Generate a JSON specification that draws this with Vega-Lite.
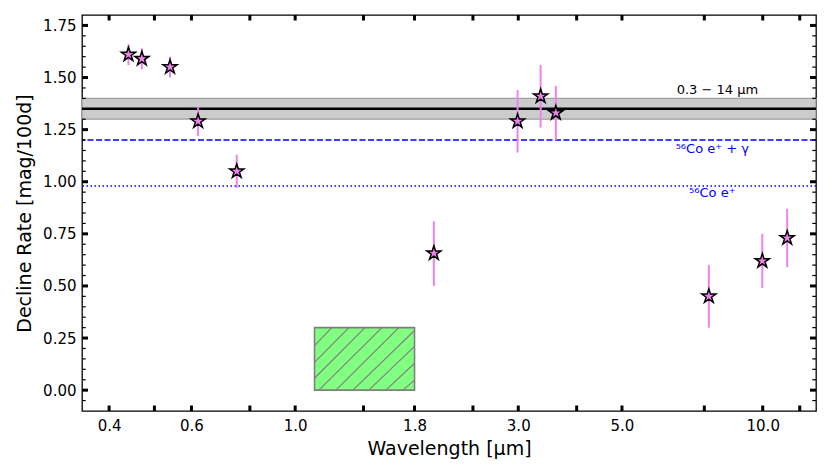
{
  "$schema": "https://vega.github.io/schema/vega-lite/v6.json",
  "autosize": "none",
  "width": 734,
  "height": 396,
  "padding": {"left": 82, "top": 15, "right": 15, "bottom": 64},
  "background": "white",
  "config": {
    "font": "DejaVu Sans",
    "view": {"stroke": "black", "strokeWidth": 1.3},
    "axis": {
      "grid": false,
      "labelColor": "black",
      "titleColor": "black",
      "labelFont": "DejaVu Sans",
      "titleFont": "DejaVu Sans",
      "titleFontWeight": "normal"
    }
  },
  "datasets": {
    "points": [
      {"wl": 0.44, "rate": 1.61, "lo": 1.56, "hi": 1.66},
      {"wl": 0.47, "rate": 1.59, "lo": 1.54, "hi": 1.64},
      {"wl": 0.54, "rate": 1.55, "lo": 1.50, "hi": 1.60},
      {"wl": 0.62, "rate": 1.29, "lo": 1.22, "hi": 1.36},
      {"wl": 0.75, "rate": 1.05, "lo": 0.97, "hi": 1.13},
      {"wl": 1.98, "rate": 0.657, "lo": 0.50, "hi": 0.81},
      {"wl": 2.99, "rate": 1.29, "lo": 1.14, "hi": 1.44},
      {"wl": 3.35, "rate": 1.41, "lo": 1.26, "hi": 1.56},
      {"wl": 3.61, "rate": 1.33, "lo": 1.20, "hi": 1.46},
      {"wl": 7.67, "rate": 0.45, "lo": 0.30, "hi": 0.60},
      {"wl": 9.98, "rate": 0.62, "lo": 0.49, "hi": 0.75},
      {"wl": 11.28, "rate": 0.73, "lo": 0.59, "hi": 0.87}
    ],
    "hatch": [
      {"x1": 1.1, "y1": 0.214, "x2": 1.198, "y2": 0.3},
      {"x1": 1.1, "y1": 0.133, "x2": 1.303, "y2": 0.3},
      {"x1": 1.1, "y1": 0.057, "x2": 1.41, "y2": 0.3},
      {"x1": 1.124, "y1": 0, "x2": 1.533, "y2": 0.3},
      {"x1": 1.222, "y1": 0, "x2": 1.666, "y2": 0.3},
      {"x1": 1.329, "y1": 0, "x2": 1.8, "y2": 0.286},
      {"x1": 1.437, "y1": 0, "x2": 1.8, "y2": 0.21},
      {"x1": 1.563, "y1": 0, "x2": 1.8, "y2": 0.129},
      {"x1": 1.7, "y1": 0, "x2": 1.8, "y2": 0.048}
    ],
    "xticks": [
      {"v": 0.4}, {"v": 0.5}, {"v": 0.6}, {"v": 0.8}, {"v": 1.0}, {"v": 1.4}, {"v": 1.8},
      {"v": 2.4}, {"v": 3.0}, {"v": 4.0}, {"v": 5.0}, {"v": 7.5}, {"v": 10}, {"v": 12}
    ],
    "ymajor": [
      {"v": 0}, {"v": 0.25}, {"v": 0.5}, {"v": 0.75}, {"v": 1}, {"v": 1.25}, {"v": 1.5}, {"v": 1.75}
    ],
    "yminor": [
      {"v": -0.05}, {"v": 0.05}, {"v": 0.1}, {"v": 0.15}, {"v": 0.2}, {"v": 0.3}, {"v": 0.35}, {"v": 0.4}, {"v": 0.45},
      {"v": 0.55}, {"v": 0.6}, {"v": 0.65}, {"v": 0.7}, {"v": 0.8}, {"v": 0.85}, {"v": 0.9}, {"v": 0.95},
      {"v": 1.05}, {"v": 1.1}, {"v": 1.15}, {"v": 1.2}, {"v": 1.3}, {"v": 1.35}, {"v": 1.4}, {"v": 1.45},
      {"v": 1.55}, {"v": 1.6}, {"v": 1.65}, {"v": 1.7}
    ]
  },
  "resolve": {
    "scale": {"x": "shared", "y": "shared"},
    "axis": {"x": "independent", "y": "independent"}
  },
  "layer": [
    {
      "data": {"values": [{"x1": 1.1, "x2": 1.8, "y1": 0, "y2": 0.3}]},
      "mark": {"type": "rect", "fill": "#80ff80", "stroke": "#808080", "strokeWidth": 1.6},
      "encoding": {
        "x": {
          "field": "x1", "type": "quantitative",
          "scale": {"type": "log", "domain": [0.35, 13], "nice": false},
          "axis": {
            "orient": "bottom",
            "title": "Wavelength [μm]",
            "titleFontSize": 19,
            "titlePadding": 6,
            "values": [0.4, 0.6, 1.0, 1.8, 3.0, 5.0, 10],
            "format": ".1f",
            "labelFontSize": 15,
            "labelPadding": 7,
            "domain": false,
            "ticks": false,
            "tickSize": 0
          }
        },
        "x2": {"field": "x2"},
        "y": {
          "field": "y1", "type": "quantitative",
          "scale": {"domain": [-0.1, 1.8], "nice": false, "zero": false},
          "axis": {
            "orient": "left",
            "title": "Decline Rate [mag/100d]",
            "titleFontSize": 19,
            "titlePadding": 8,
            "values": [0, 0.25, 0.5, 0.75, 1, 1.25, 1.5, 1.75],
            "format": ".2f",
            "labelFontSize": 15,
            "labelPadding": 6,
            "domain": false,
            "ticks": false,
            "tickSize": 0
          }
        },
        "y2": {"field": "y2"}
      }
    },
    {
      "data": {"name": "hatch"},
      "mark": {"type": "rule", "color": "#808080", "strokeWidth": 1.2},
      "encoding": {
        "x": {"field": "x1", "type": "quantitative", "scale": {"type": "log", "domain": [0.35, 13], "nice": false}, "axis": null},
        "x2": {"field": "x2"},
        "y": {"field": "y1", "type": "quantitative", "scale": {"domain": [-0.1, 1.8], "nice": false, "zero": false}, "axis": null},
        "y2": {"field": "y2"}
      }
    },
    {
      "data": {"values": [{"lo": 1.30, "hi": 1.40}]},
      "mark": {"type": "rect", "fill": "#cccccc", "stroke": "#a0a0a0", "strokeWidth": 1.3},
      "encoding": {
        "y": {"field": "lo", "type": "quantitative", "scale": {"domain": [-0.1, 1.8], "nice": false, "zero": false}, "axis": null},
        "y2": {"field": "hi"}
      }
    },
    {
      "data": {"values": [{"level": 1.35}]},
      "mark": {"type": "rule", "color": "black", "strokeWidth": 2.6},
      "encoding": {
        "y": {"field": "level", "type": "quantitative", "scale": {"domain": [-0.1, 1.8], "nice": false, "zero": false}, "axis": null}
      }
    },
    {
      "data": {"values": [{"level": 1.2}]},
      "mark": {"type": "rule", "color": "blue", "strokeWidth": 1.5, "strokeDash": [6, 2.5]},
      "encoding": {
        "y": {"field": "level", "type": "quantitative", "scale": {"domain": [-0.1, 1.8], "nice": false, "zero": false}, "axis": null}
      }
    },
    {
      "data": {"values": [{"level": 0.98}]},
      "mark": {"type": "rule", "color": "blue", "strokeWidth": 1.5, "strokeDash": [1.5, 2.5]},
      "encoding": {
        "y": {"field": "level", "type": "quantitative", "scale": {"domain": [-0.1, 1.8], "nice": false, "zero": false}, "axis": null}
      }
    },
    {
      "data": {"name": "points"},
      "mark": {"type": "rule", "color": "violet", "strokeWidth": 2},
      "encoding": {
        "x": {"field": "wl", "type": "quantitative", "scale": {"type": "log", "domain": [0.35, 13], "nice": false}, "axis": null},
        "y": {"field": "lo", "type": "quantitative", "scale": {"domain": [-0.1, 1.8], "nice": false, "zero": false}, "axis": null},
        "y2": {"field": "hi"}
      }
    },
    {
      "data": {"name": "points"},
      "mark": {
        "type": "point",
        "shape": "M0,-1L0.2245,-0.309L0.951,-0.309L0.3633,0.118L0.588,0.809L0,0.382L-0.588,0.809L-0.3633,0.118L-0.951,-0.309L-0.2245,-0.309Z",
        "filled": true,
        "fill": "violet",
        "stroke": "black",
        "strokeWidth": 1.5,
        "opacity": 1,
        "size": 220
      },
      "encoding": {
        "x": {"field": "wl", "type": "quantitative", "scale": {"type": "log", "domain": [0.35, 13], "nice": false}, "axis": null},
        "y": {"field": "rate", "type": "quantitative", "scale": {"domain": [-0.1, 1.8], "nice": false, "zero": false}, "axis": null}
      }
    },
    {
      "data": {"name": "xticks"},
      "mark": {"type": "point", "shape": "M0,0L0,-1", "filled": false, "stroke": "black", "strokeWidth": 3, "opacity": 1, "size": 121},
      "encoding": {
        "x": {"field": "v", "type": "quantitative", "scale": {"type": "log", "domain": [0.35, 13], "nice": false}, "axis": null},
        "y": {"datum": -0.1, "type": "quantitative", "scale": {"domain": [-0.1, 1.8], "nice": false, "zero": false}, "axis": null}
      }
    },
    {
      "data": {"name": "xticks"},
      "mark": {"type": "point", "shape": "M0,0L0,1", "filled": false, "stroke": "black", "strokeWidth": 3, "opacity": 1, "size": 121},
      "encoding": {
        "x": {"field": "v", "type": "quantitative", "scale": {"type": "log", "domain": [0.35, 13], "nice": false}, "axis": null},
        "y": {"datum": 1.8, "type": "quantitative", "scale": {"domain": [-0.1, 1.8], "nice": false, "zero": false}, "axis": null}
      }
    },
    {
      "data": {"name": "ymajor"},
      "mark": {"type": "point", "shape": "M0,0L1,0", "filled": false, "stroke": "black", "strokeWidth": 3, "opacity": 1, "size": 144},
      "encoding": {
        "x": {"datum": 0.35, "type": "quantitative", "scale": {"type": "log", "domain": [0.35, 13], "nice": false}, "axis": null},
        "y": {"field": "v", "type": "quantitative", "scale": {"domain": [-0.1, 1.8], "nice": false, "zero": false}, "axis": null}
      }
    },
    {
      "data": {"name": "ymajor"},
      "mark": {"type": "point", "shape": "M0,0L-1,0", "filled": false, "stroke": "black", "strokeWidth": 3, "opacity": 1, "size": 144},
      "encoding": {
        "x": {"datum": 13, "type": "quantitative", "scale": {"type": "log", "domain": [0.35, 13], "nice": false}, "axis": null},
        "y": {"field": "v", "type": "quantitative", "scale": {"domain": [-0.1, 1.8], "nice": false, "zero": false}, "axis": null}
      }
    },
    {
      "data": {"name": "yminor"},
      "mark": {"type": "point", "shape": "M0,0L1,0", "filled": false, "stroke": "black", "strokeWidth": 1.2, "opacity": 1, "size": 56},
      "encoding": {
        "x": {"datum": 0.35, "type": "quantitative", "scale": {"type": "log", "domain": [0.35, 13], "nice": false}, "axis": null},
        "y": {"field": "v", "type": "quantitative", "scale": {"domain": [-0.1, 1.8], "nice": false, "zero": false}, "axis": null}
      }
    },
    {
      "data": {"name": "yminor"},
      "mark": {"type": "point", "shape": "M0,0L-1,0", "filled": false, "stroke": "black", "strokeWidth": 1.2, "opacity": 1, "size": 56},
      "encoding": {
        "x": {"datum": 13, "type": "quantitative", "scale": {"type": "log", "domain": [0.35, 13], "nice": false}, "axis": null},
        "y": {"field": "v", "type": "quantitative", "scale": {"domain": [-0.1, 1.8], "nice": false, "zero": false}, "axis": null}
      }
    },
    {
      "data": {"values": [
        {"label": "0.3 − 14 μm", "col": "black", "wl": 8.0, "rate": 1.44},
        {"label": "⁵⁶Co e⁺ + γ", "col": "blue", "wl": 7.8, "rate": 1.155},
        {"label": "⁵⁶Co e⁺", "col": "blue", "wl": 7.8, "rate": 0.945}
      ]},
      "mark": {"type": "text", "fontSize": 13, "align": "center", "baseline": "middle"},
      "encoding": {
        "x": {"field": "wl", "type": "quantitative", "scale": {"type": "log", "domain": [0.35, 13], "nice": false}, "axis": null},
        "y": {"field": "rate", "type": "quantitative", "scale": {"domain": [-0.1, 1.8], "nice": false, "zero": false}, "axis": null},
        "text": {"field": "label"},
        "color": {"field": "col", "type": "nominal", "scale": null}
      }
    }
  ]
}
